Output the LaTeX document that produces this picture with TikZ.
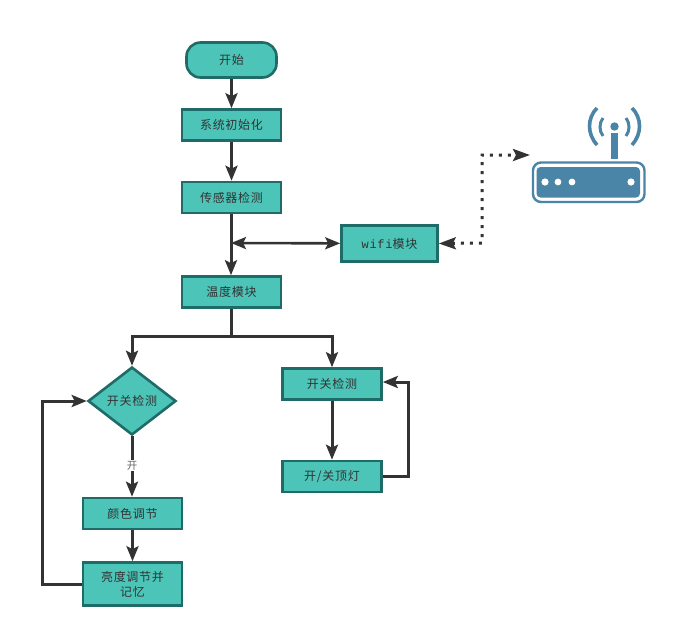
\documentclass[tikz,border=0pt]{standalone}
\usepackage{fontspec}
\setmainfont[LetterSpace=6]{Noto Sans CJK SC}
\newfontfamily\wifimono{Liberation Mono}[LetterSpace=6]
\newfontfamily\labelfont{Noto Sans CJK SC}
\usetikzlibrary{arrows.meta,shapes.geometric,positioning}
\definecolor{boxfill}{HTML}{4CC4B8}
\definecolor{boxedge}{HTML}{1F6B68}
\definecolor{lnk}{HTML}{333333}
\definecolor{router}{HTML}{4A84A6}
\tikzset{
 x=1pt,y=-1pt,
 every node/.style={font=\fontsize{12}{15}\selectfont,text=lnk,inner sep=0pt,align=center},
 boxbase/.style={draw=boxedge,fill=boxfill,line width=2.6pt},
 procbox/.style={boxbase,rectangle,minimum width=99pt,minimum height=31pt},
 startbox/.style={boxbase,rectangle,rounded corners=14pt,minimum width=90pt,minimum height=35pt},
 decbox/.style={boxbase,diamond,minimum width=88pt,minimum height=68pt},
 flow/.style={draw=lnk,line width=3pt,-{Stealth[length=15pt,width=12pt,inset=3pt]}},
 plainflow/.style={draw=lnk,line width=3pt},
 biflow/.style={draw=lnk,line width=2.6pt,{Stealth[length=15pt,width=12pt,inset=3pt]}-{Stealth[length=15pt,width=12pt,inset=3pt]}},
 dotflow/.style={draw=lnk,line width=3pt,dash pattern=on 3pt off 6pt,{Stealth[length=17pt,width=12pt,inset=3pt]}-{Stealth[length=17pt,width=12pt,inset=3pt]}},
 routerline/.style={draw=router,line width=2.4pt},
}
\begin{document}
\begin{tikzpicture}
\useasboundingbox (0,0) rectangle (674,633);
\fill[white] (0,0) rectangle (674,633);
\node[startbox] (start) at (231.5,60) {开始};
\node[procbox] (sys) at (231.5,125) {系统初始化};
\node[procbox] (sensor) at (231.5,197.5) {传感器检测};
\node[procbox,minimum width=96pt,minimum height=36pt] (wifi) at (389.5,243.5) {{\wifimono wifi}模块};
\node[procbox] (temp) at (231.5,292) {温度模块};
\node[decbox] (dec) at (132,401) {开关检测};
\node[procbox] (color) at (132.5,513.5) {颜色调节};
\node[procbox,minimum height=43pt] (bright) at (132.5,584) {亮度调节并\\记忆};
\node[procbox] (sw) at (332,384) {开关检测};
\node[procbox] (lamp) at (332,476.5) {开/关顶灯};

\coordinate (junc) at (231,243);
\coordinate (split) at (231,336);
\coordinate (dotcorner1) at (482,243);
\coordinate (dotcorner2) at (482,155);
\coordinate (routerend) at (530,155);
\coordinate (loopa) at (42,584);
\coordinate (loopb) at (42,401);
\coordinate (loopc) at (408,476.5);
\coordinate (loopd) at (408,382);

\draw[flow] (start) -- (sys);
\draw[flow] (sys) -- (sensor);
\draw[flow] (sensor.south -| junc) -- (temp.north -| junc);
\draw[biflow] (junc) -- (wifi);
\draw[dotflow] (wifi.east) -- (dotcorner1) -- (dotcorner2) -- (routerend);
\draw[plainflow] (temp.south -| split) -- (split);
\draw[flow] (split) -| (dec.north);
\draw[flow] (split) -| (sw.north);
\draw[flow] (dec.south) -- (color.north -| dec.south) node[pos=.49,fill=white,text=lnk!75,inner ysep=1pt,font=\labelfont\fontsize{10.5}{12}\selectfont] (onlabel) {开};
\draw[flow] (color) -- (bright);
\draw[flow] (bright.west) -- (loopa) -- (loopb) -- (dec.west);
\draw[flow] (sw) -- (lamp);
\draw[flow] (lamp.east) -- (loopc) -- (loopd) -- (sw.east |- loopd);

% router icon
\draw[routerline,rounded corners=8pt] (533,162.5) rectangle (644.5,202);
\fill[router,rounded corners=4pt] (536.5,167) rectangle (640,197.5);
\fill[white] (545,182) circle (3.6) (558,182) circle (3.4) (572,182) circle (3.4) (631,182) circle (3.6);
\draw[routerline,line width=7pt] (614.5,133) -- (614.5,159);
\fill[router] (614.5,126.5) circle (4.2);
\draw[routerline,line width=3pt] (603,118) .. controls (599,123) and (599,131) .. (603,136);
\draw[routerline,line width=3pt] (626,118) .. controls (630,123) and (630,131) .. (626,136);
\draw[routerline,line width=3.6pt] (597,108) .. controls (587,118) and (587,134) .. (597,145);
\draw[routerline,line width=3.6pt] (632,108) .. controls (642,118) and (642,134) .. (632,145);
\end{tikzpicture}
\end{document}
